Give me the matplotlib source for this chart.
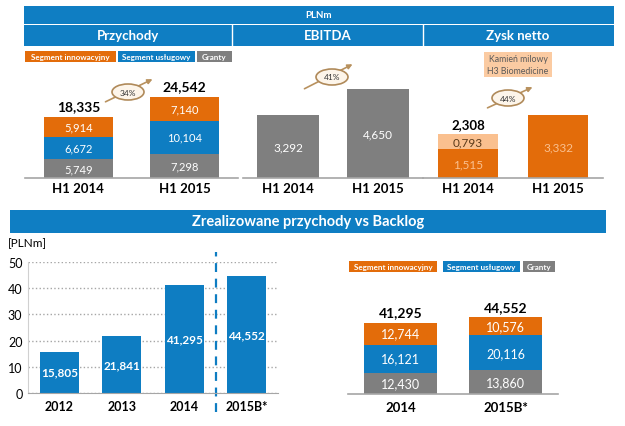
import matplotlib
matplotlib.use('Agg')
import matplotlib.pyplot as plt
from matplotlib.patches import Rectangle, Ellipse

plt.rcParams['font.family'] = ['Lato', 'DejaVu Sans']

# dane (mln PLN)
top_years = ['H1 2014', 'H1 2015']
rev_granty = [5.749, 7.298]
rev_uslugi = [6.672, 10.104]
rev_innow = [5.914, 7.140]
ebitda = [3.292, 4.650]
zysk_base = [1.515, 3.332]
zysk_kamien = [0.793, 0.0]
growth = ['34%', '41%', '44%']

backlog_years = ['2012', '2013', '2014', '2015B*']
backlog_vals = [15.805, 21.841, 41.295, 44.552]
yticks_bl = [0, 10, 20, 30, 40, 50]

seg_years = ['2014', '2015B*']
seg_granty = [12.430, 13.860]
seg_uslugi = [16.121, 20.116]
seg_innow = [12.744, 10.576]

ORANGE = '#E36C0A'
BLUE = '#0E7DC2'
GRAY = '#7F7F7F'
PEACH = '#FAC08F'
HEAD = '#0F7EC3'

W, H = 625, 427
fig = plt.figure(figsize=(W / 100, H / 100), dpi=100)
bg = fig.add_axes([0, 0, 1, 1])
bg.set_xlim(0, W)
bg.set_ylim(H, 0)
bg.axis('off')


def fmt(v):
    return f'{v:.3f}'.replace('.', ',')


def px_axes(x0, y0, x1, y1):
    return fig.add_axes([x0 / W, 1 - y1 / H, (x1 - x0) / W, (y1 - y0) / H])


def clean(ax, ymax):
    ax.set_xlim(-0.5, 1.5)
    ax.set_ylim(0, ymax)
    for s in ['top', 'right', 'left']:
        ax.spines[s].set_visible(False)
    ax.spines['bottom'].set_color('#A6A6A6')
    ax.spines['bottom'].set_linewidth(1.2)
    ax.set_yticks([])
    ax.tick_params(axis='x', length=0, pad=3, labelsize=9.5)
    ax.patch.set_alpha(0)


def box(x0, y0, x1, y1, color, text='', fs=6.5, tc='white', bold=True):
    bg.add_patch(Rectangle((x0, y0), x1 - x0, y1 - y0, color=color, lw=0))
    if text:
        bg.text((x0 + x1) / 2, (y0 + y1) / 2, text, color=tc, fontsize=fs,
                ha='center', va='center', fontweight='bold' if bold else 'normal')


# naglowek
box(24, 7, 614, 25, HEAD, 'PLNm', fs=7)
box(24, 26, 614, 47, HEAD)
for x in [232, 423]:
    bg.plot([x, x], [26, 47], color='white', lw=1)
for x, t in [(128, 'Przychody'), (328, 'EBITDA'), (518, 'Zysk netto')]:
    bg.text(x, 36.5, t, color='white', fontsize=9.5, fontweight='bold', ha='center', va='center')


def legend(y0, xs):
    y1 = y0 + 11
    box(xs[0], y0, xs[1], y1, ORANGE, 'Segment innowacyjny', fs=5.8)
    box(xs[2], y0, xs[3], y1, BLUE, 'Segment usługowy', fs=5.8)
    box(xs[4], y0, xs[5], y1, GRAY, 'Granty', fs=5.8)


legend(52, [25, 116, 118, 195, 197, 232])
box(484, 53, 552, 78, '#FBCBA2')
bg.text(518, 60, 'Kamień milowy', fontsize=6.3, color='#595959', ha='center', va='center')
bg.text(518, 71, 'H3 Biomedicine', fontsize=6.3, color='#595959', ha='center', va='center')

# Przychody
ax1 = px_axes(25, 60, 238, 179)
x = range(len(top_years))
b1 = ax1.bar(x, rev_granty, 0.65, color=GRAY)
b2 = ax1.bar(x, rev_uslugi, 0.65, bottom=rev_granty, color=BLUE)
bot = [a + b for a, b in zip(rev_granty, rev_uslugi)]
b3 = ax1.bar(x, rev_innow, 0.65, bottom=bot, color=ORANGE)
for bars in (b1, b2, b3):
    ax1.bar_label(bars, labels=[fmt(v) for v in bars.datavalues], label_type='center',
                  color='white', fontsize=8)
tot = [a + b for a, b in zip(bot, rev_innow)]
for i, t in enumerate(tot):
    ax1.text(i, t + 1.5, fmt(t), ha='center', va='bottom', fontsize=10, fontweight='bold')
ax1.set_xticks(list(x), top_years, fontweight='bold')
clean(ax1, 36.06)

# EBITDA
ax2 = px_axes(243, 60, 423, 179)
b = ax2.bar(x, ebitda, 0.68, color=GRAY)
ax2.bar_label(b, labels=[fmt(v) for v in ebitda], label_type='center', color='white', fontsize=8.5)
ax2.set_xticks(list(x), top_years, fontweight='bold')
clean(ax2, 6.217)

# Zysk netto
ax3 = px_axes(423, 60, 603, 179)
b = ax3.bar(x, zysk_base, 0.67, color=ORANGE)
ax3.bar_label(b, labels=[fmt(v) for v in zysk_base], label_type='center', color=PEACH, fontsize=8.5)
bk = ax3.bar([0], zysk_kamien[:1], 0.67, bottom=zysk_base[:1], color=PEACH)
ax3.bar_label(bk, labels=[fmt(zysk_kamien[0])], label_type='center', color='#5A3A1A', fontsize=8.5)
ax3.text(0, zysk_base[0] + zysk_kamien[0] + 0.25, fmt(zysk_base[0] + zysk_kamien[0]),
         ha='center', va='bottom', fontsize=9.5, fontweight='bold')
ax3.set_xticks(list(x), top_years, fontweight='bold')
clean(ax3, 6.294)

# strzalki wzrostu
for (cx, cy), (sx, sy), (ex, ey), g in zip([(128, 93), (332, 78), (508, 99)],
                                           [(103, 104), (302, 91), (485, 110)],
                                           [(155, 79), (355, 64), (535, 87)], growth):
    bg.annotate('', xy=(ex, ey), xytext=(sx, sy),
                arrowprops=dict(arrowstyle='-|>', color='#B8915E', lw=1.2, mutation_scale=7))
    bg.add_patch(Ellipse((cx, cy), 32, 16, facecolor='#FDF5EA', edgecolor='#B08A5A', lw=1.2, zorder=3))
    bg.text(cx, cy, g, fontsize=6, ha='center', va='center', color='#333333', zorder=4)

# sekcja 2
box(10, 211, 606, 234, HEAD, 'Zrealizowane przychody vs Backlog', fs=10.5)
bg.text(8, 244, '[PLNm]', fontsize=8.5, va='center', ha='left')

ax4 = px_axes(28, 263, 278, 394)
xb = range(len(backlog_years))
b = ax4.bar(xb, backlog_vals, 0.62, color=BLUE, zorder=2)
ax4.bar_label(b, labels=[fmt(v) for v in backlog_vals], label_type='center', color='white',
              fontsize=8.5, fontweight='bold')
ax4.set_xlim(-0.5, 3.5)
ax4.set_ylim(0, 50)
ax4.set_yticks(yticks_bl)
ax4.set_xticks(list(xb), backlog_years, fontweight='bold')
ax4.tick_params(axis='both', length=0, labelsize=9)
ax4.tick_params(axis='x', pad=5)
ax4.tick_params(axis='y', pad=4)
ax4.grid(axis='y', ls=':', color='#A6A6A6', lw=1)
ax4.set_axisbelow(True)
for s in ['top', 'right']:
    ax4.spines[s].set_visible(False)
ax4.spines['left'].set_color('#D0D0D0')
ax4.spines['bottom'].set_color('#A6A6A6')
ax4.axvline(2.5, ymin=-0.145, ymax=1.076, clip_on=False, ls=(0, (4, 3)), color=BLUE, lw=1.6)

legend(262, [349, 437, 443, 520, 523, 555])
ax5 = px_axes(348, 285, 558, 395)
xs = range(len(seg_years))
c1 = ax5.bar(xs, seg_granty, 0.69, color=GRAY)
c2 = ax5.bar(xs, seg_uslugi, 0.69, bottom=seg_granty, color=BLUE)
bot2 = [a + b for a, b in zip(seg_granty, seg_uslugi)]
c3 = ax5.bar(xs, seg_innow, 0.69, bottom=bot2, color=ORANGE)
for bars in (c1, c2, c3):
    ax5.bar_label(bars, labels=[fmt(v) for v in bars.datavalues], label_type='center',
                  color='white', fontsize=9)
for i, t in enumerate([a + b for a, b in zip(bot2, seg_innow)]):
    ax5.text(i, t + 2.5, fmt(t), ha='center', va='bottom', fontsize=10, fontweight='bold')
ax5.set_xticks(list(xs), seg_years, fontweight='bold')
clean(ax5, 63.65)
ax5.tick_params(axis='x', pad=5)

fig.savefig('out.png', dpi=100)
